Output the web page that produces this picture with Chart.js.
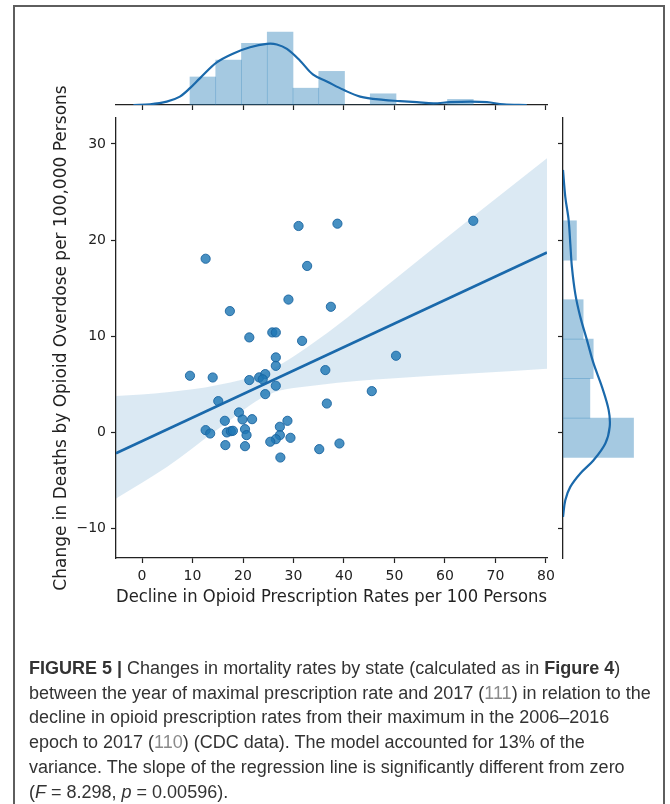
<!DOCTYPE html>
<html>
<head>
<meta charset="utf-8">
<script src="https://cdn.jsdelivr.net/npm/chart.js@4.4.1/dist/chart.umd.min.js"></script>
<style>
  html, body { margin: 0; padding: 0; background: #fff; }
  #page { position: relative; width: 670px; height: 804px; overflow: hidden; background: #fff; }
  #frame { position: absolute; left: 13px; top: 5px; width: 652px; height: 830px;
           border: 2px solid #5e5e5e; box-sizing: border-box; }
  canvas { position: absolute; left: 0; top: 0; }
  #caption { position: absolute; left: 29px; top: 656px;
             font-family: 'Liberation Sans', Arial, sans-serif; font-size: 18px;
             line-height: 24.7px; color: #333; white-space: nowrap; }
  #caption .ref { color: #8a8a8a; }
</style>
</head>
<body>
<div id="page">
  <div id="frame"></div>
  <canvas id="mainChart" width="670" height="804"></canvas>
  <canvas id="topChart" width="670" height="804"></canvas>
  <canvas id="sideChart" width="670" height="804"></canvas>
  <div id="caption"><b>FIGURE 5 |</b> Changes in mortality rates by state (calculated as in <b>Figure 4</b>)<br>between the year of maximal prescription rate and 2017 (<span class="ref">111</span>) in relation to the<br>decline in opioid prescription rates from their maximum in the 2006–2016<br>epoch to 2017 (<span class="ref">110</span>) (CDC data). The model accounted for 13% of the<br>variance. The slope of the regression line is significantly different from zero<br>(<i>F</i> = 8.298, <i>p</i> = 0.00596).</div>
</div>
<script>
// Axis ranges and tick values
const xRange = [-5.15, 80.2];
const yRange = [-13.1, 32.7];
const xTicks = [0, 10, 20, 30, 40, 50, 60, 70, 80];
const yTicks = [-10, 0, 10, 20, 30];

// One point per state: decline in prescriptions (x) vs change in overdose deaths (y)
const declineRate = [
  21.25, 25.8, 26.5, 31.7, 26.5, 26.5, 9.5, 14.0, 21.25, 23.2,
  24.4, 23.9, 26.5, 24.4, 36.3, 36.6, 15.1, 19.2, 16.4, 19.9,
  21.8, 28.8, 27.3, 12.6, 13.5, 16.8, 17.6, 18.0, 20.4, 20.7,
  29.4, 27.3, 26.5, 25.4, 16.5, 20.4, 35.1, 39.1, 27.4, 12.6,
  31.0, 38.7, 32.7, 17.4, 29.0, 37.4, 65.6, 50.3, 45.5
];
const deathChange = [
  9.86, 10.38, 10.38, 9.5, 7.78, 6.9, 5.87, 5.69, 5.42, 5.7,
  6.04, 5.5, 4.83, 3.96, 6.46, 2.98, 3.23, 2.05, 1.18, 1.32,
  1.35, 1.18, 0.56, 0.21, -0.14, -0.03, 0.1, 0.14, 0.31, -0.31,
  -0.59, -0.31, -0.73, -1.0, -1.35, -1.46, -1.77, -1.18, -2.64, 18.05,
  21.46, 21.7, 17.3, 12.6, 13.8, 13.05, 22.0, 7.95, 4.27
];

// Regression line and its confidence band
const fitX = [-5.15, 80.2];
const fitY = [-2.2, 18.7];
const bandX = [-5.15, 5, 15, 25, 35, 50, 65, 80.2];
const bandHigh = [3.75, 4.15, 4.9, 6.4, 9.7, 15.9, 22.2, 28.5];
const bandLow = [-6.9, -3.6, 0.3, 3.9, 4.9, 5.6, 6.1, 6.6];

// Marginal distribution of the prescription decline
const declineBinEdges = [9.5, 14.6, 19.7, 24.8, 29.9, 35.0, 40.1, 45.2, 50.3, 55.4, 60.5, 65.6];
const declineBinCounts = [5, 8, 11, 13, 3, 6, 0, 2, 0, 0, 1];
const declineKdeX = [-1.7, 1.6, 4.9, 7.5, 9.5, 11.5, 14.8, 18.1, 21.4, 24.7, 26.7, 28.7, 31.3,
                     33.9, 36.6, 39.9, 43.2, 47.8, 51.1, 54.4, 57.7, 61.0, 65.0, 68.3, 71.6, 76.2];
const declineKdeY = [0, 0.12, 0.6, 1.5, 3.0, 4.8, 7.6, 9.2, 10.3, 10.9, 10.8, 10.0, 7.9,
                     5.4, 4.2, 2.7, 1.5, 0.9, 0.7, 0.5, 0.3, 0.5, 0.6, 0.5, 0.12, 0];

// Marginal distribution of the change in overdose deaths
const deathBinEdges = [-2.64, 1.47, 5.57, 9.68, 13.79, 17.9, 22.0];
const deathBinCounts = [21, 8, 9, 6, 0, 4];
const deathKdeY = [27.3, 24.5, 22.1, 19.65, 17.2, 14.4, 12.0, 9.58, 7.15, 4.72, 2.29, 0.55,
                   -1.18, -2.92, -4.3, -5.7, -7.08, -8.82];
const deathKdeVal = [0, 0.68, 1.67, 2.17, 2.65, 3.66, 5.15, 7.14, 9.1, 11.6, 13.6, 13.9,
                     12.6, 9.1, 5.15, 2.17, 0.68, 0];

const topCountMax = 15.7;
const sideCountMax = 26.2;

const LINE_BLUE = '#1a69ab';
const INK = '#222';

const pairs = (xs, ys) => xs.map((x, i) => ({ x: x, y: ys[i] }));
const centers = edges => edges.slice(0, -1).map((e, i) => (e + edges[i + 1]) / 2);
const minusFmt = v => (v < 0 ? '\u2212' + Math.abs(v) : String(v));

Chart.defaults.font.family = "'DejaVu Sans', sans-serif";
Chart.defaults.color = INK;

const common = {
  responsive: false,
  animation: false,
  events: [],
  plugins: { legend: { display: false }, tooltip: { enabled: false } }
};

const tickGrid = { display: true, drawOnChartArea: false, drawTicks: true, offset: false,
                   tickLength: 5, tickColor: INK, tickWidth: 1.2 };
const spine = { display: true, color: INK, width: 1.3 };

// Joint scatter with regression fit
new Chart(document.getElementById('mainChart'), {
  type: 'line',
  data: {
    datasets: [
      { label: 'fit', data: pairs(fitX, fitY), borderColor: LINE_BLUE, borderWidth: 2.6,
        pointRadius: 0, fill: false, order: 0 },
      { label: 'ci-high', data: pairs(bandX, bandHigh), borderColor: 'rgba(0,0,0,0)', borderWidth: 0,
        pointRadius: 0, backgroundColor: 'rgba(31,119,180,0.16)', fill: '+1',
        cubicInterpolationMode: 'monotone', order: 1 },
      { label: 'ci-low', data: pairs(bandX, bandLow), borderColor: 'rgba(0,0,0,0)', borderWidth: 0,
        pointRadius: 0, fill: false, cubicInterpolationMode: 'monotone', order: 1 },
      { label: 'states', data: pairs(declineRate, deathChange), showLine: false,
        pointRadius: 4.6, pointBackgroundColor: 'rgba(31,119,180,0.82)',
        pointBorderColor: 'rgba(26,100,160,0.9)', pointBorderWidth: 1, order: 2 }
    ]
  },
  options: Object.assign({}, common, {
    layout: { padding: { left: 0, right: 123, top: 118, bottom: 186 } },
    scales: {
      x: {
        type: 'linear', min: xRange[0], max: xRange[1], offset: false,
        afterBuildTicks: s => { s.ticks = xTicks.map(v => ({ value: v })); },
        afterFit: s => { s.height = 60; },
        grid: tickGrid, border: spine,
        ticks: { padding: 5, font: { size: 14 }, color: INK, maxRotation: 0, autoSkip: false,
                 callback: minusFmt },
        title: { display: true, text: 'Decline in Opioid Prescription Rates per 100 Persons',
                 font: { size: 17 }, color: INK, padding: { top: 0, bottom: 9.8 } }
      },
      y: {
        type: 'linear', min: yRange[0], max: yRange[1], offset: false,
        afterBuildTicks: s => { s.ticks = yTicks.map(v => ({ value: v })); },
        afterFit: s => { s.width = 116; },
        grid: tickGrid, border: spine,
        ticks: { padding: 5, font: { size: 14 }, color: INK, autoSkip: false, callback: minusFmt },
        title: { display: true, text: 'Change in Deaths by Opioid Overdose per 100,000 Persons',
                 font: { size: 17 }, color: INK, padding: { top: 51.8, bottom: 0 } }
      }
    }
  })
});

// Top marginal: histogram + density of the prescription decline
new Chart(document.getElementById('topChart'), {
  type: 'bar',
  data: {
    datasets: [
      { type: 'line', data: pairs(declineKdeX, declineKdeY), borderColor: LINE_BLUE, borderWidth: 2.2,
        pointRadius: 0, tension: 0.35, fill: false, order: 0 },
      { type: 'bar', data: pairs(centers(declineBinEdges), declineBinCounts),
        backgroundColor: 'rgba(31,119,180,0.4)', borderWidth: 0,
        barPercentage: 1, categoryPercentage: 1, order: 1 }
    ]
  },
  options: Object.assign({}, common, {
    layout: { padding: { left: 116, right: 123, top: 17, bottom: 694 } },
    scales: {
      x: {
        type: 'linear', min: xRange[0], max: xRange[1], offset: false,
        afterBuildTicks: s => { s.ticks = xTicks.map(v => ({ value: v })); },
        afterFit: s => { s.height = 5; },
        grid: tickGrid, border: spine, ticks: { display: false }
      },
      y: { type: 'linear', min: 0, max: topCountMax, display: false }
    }
  })
});

// Right marginal: histogram + density of the change in deaths
new Chart(document.getElementById('sideChart'), {
  type: 'bar',
  data: {
    datasets: [
      { type: 'line', data: pairs(deathKdeVal, deathKdeY), borderColor: LINE_BLUE, borderWidth: 2.2,
        pointRadius: 0, tension: 0.35, fill: false, order: 0 },
      { type: 'bar', data: pairs(deathBinCounts, centers(deathBinEdges)),
        backgroundColor: 'rgba(31,119,180,0.4)', borderWidth: 0,
        barPercentage: 1, categoryPercentage: 1, order: 1 }
    ]
  },
  options: Object.assign({}, common, {
    indexAxis: 'y',
    layout: { padding: { left: 558, right: 19, top: 118, bottom: 246 } },
    scales: {
      y: {
        type: 'linear', position: 'left', min: yRange[0], max: yRange[1], offset: false,
        afterBuildTicks: s => { s.ticks = yTicks.map(v => ({ value: v })); },
        afterFit: s => { s.width = 5; },
        grid: tickGrid, border: spine, ticks: { display: false }
      },
      x: { type: 'linear', min: 0, max: sideCountMax, display: false }
    }
  })
});
</script>
</body>
</html>
